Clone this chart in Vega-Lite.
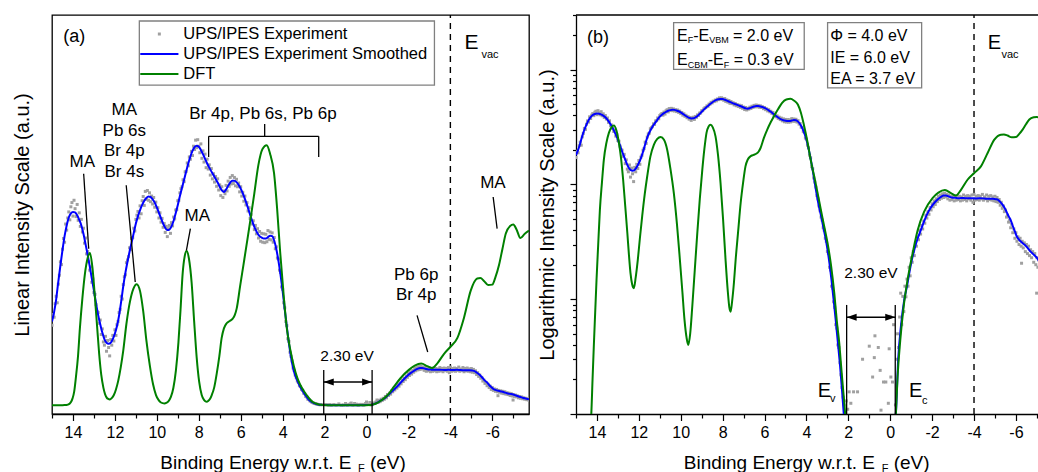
{
  "$schema": "https://vega.github.io/schema/vega-lite/v6.json",
  "background": "white",
  "padding": {"left": 11, "top": 13, "right": 0, "bottom": 0},
  "config": {
    "font": "Liberation Sans",
    "axis": {"labelFont": "Liberation Sans", "titleFont": "Liberation Sans", "labelFontSize": 16, "titleFontSize": 20, "titleFontWeight": "normal", "labelColor": "black", "titleColor": "black", "tickColor": "black", "domainColor": "black", "domainWidth": 1.3, "tickWidth": 1.2, "grid": false},
    "text": {"font": "Liberation Sans", "color": "black"}
  },
  "datasets": {
    "exp": [
      {"E":15.0,"I":17.2},{"E":14.95,"I":19.5},{"E":14.9,"I":18.9},{"E":14.85,"I":21.8},{"E":14.8,"I":23.4},{"E":14.75,"I":22.0},{"E":14.7,"I":26.0},{"E":14.65,"I":27.9},{"E":14.6,"I":30.8},{"E":14.55,"I":30.2},{"E":14.5,"I":33.5},{"E":14.45,"I":35.8},{"E":14.4,"I":35.0},{"E":14.35,"I":38.9},{"E":14.3,"I":37.6},{"E":14.25,"I":40.2},{"E":14.2,"I":41.5},{"E":14.15,"I":39.8},{"E":14.1,"I":42.6},{"E":14.05,"I":43.5},{"E":14.0,"I":40.6},{"E":13.95,"I":44.0},{"E":13.9,"I":42.2},{"E":13.85,"I":40.5},{"E":13.8,"I":43.1},{"E":13.75,"I":39.7},{"E":13.7,"I":41.3},{"E":13.65,"I":38.4},{"E":13.6,"I":39.9},{"E":13.55,"I":37.2},{"E":13.5,"I":38.0},{"E":13.45,"I":34.8},{"E":13.4,"I":35.9},{"E":13.35,"I":32.5},{"E":13.3,"I":33.0},{"E":13.25,"I":30.8},{"E":13.2,"I":29.0},{"E":13.15,"I":29.7},{"E":13.1,"I":26.4},{"E":13.05,"I":27.1},{"E":13.0,"I":24.2},{"E":12.95,"I":23.8},{"E":12.9,"I":21.6},{"E":12.85,"I":20.1},{"E":12.8,"I":19.9},{"E":12.75,"I":17.6},{"E":12.7,"I":18.3},{"E":12.65,"I":15.2},{"E":12.6,"I":16.4},{"E":12.55,"I":13.6},{"E":12.5,"I":12.9},{"E":12.45,"I":14.8},{"E":12.4,"I":11.6},{"E":12.35,"I":13.9},{"E":12.3,"I":12.4},{"E":12.25,"I":10.6},{"E":12.2,"I":14.1},{"E":12.15,"I":12.9},{"E":12.1,"I":15.0},{"E":12.05,"I":13.8},{"E":12.0,"I":16.2},{"E":11.95,"I":15.0},{"E":11.9,"I":17.3},{"E":11.85,"I":18.0},{"E":11.8,"I":19.9},{"E":11.75,"I":20.6},{"E":11.7,"I":23.4},{"E":11.65,"I":22.8},{"E":11.6,"I":25.9},{"E":11.55,"I":27.6},{"E":11.5,"I":28.0},{"E":11.45,"I":30.6},{"E":11.4,"I":31.2},{"E":11.35,"I":31.9},{"E":11.3,"I":33.8},{"E":11.25,"I":33.4},{"E":11.2,"I":35.8},{"E":11.15,"I":36.0},{"E":11.1,"I":38.0},{"E":11.05,"I":37.4},{"E":11.0,"I":39.9},{"E":10.95,"I":40.8},{"E":10.9,"I":41.6},{"E":10.85,"I":40.2},{"E":10.8,"I":42.8},{"E":10.75,"I":41.1},{"E":10.7,"I":43.9},{"E":10.65,"I":44.8},{"E":10.6,"I":42.9},{"E":10.55,"I":45.9},{"E":10.5,"I":44.2},{"E":10.45,"I":46.1},{"E":10.4,"I":44.0},{"E":10.35,"I":45.6},{"E":10.3,"I":43.7},{"E":10.25,"I":44.9},{"E":10.2,"I":43.2},{"E":10.15,"I":44.6},{"E":10.1,"I":42.5},{"E":10.05,"I":43.6},{"E":10.0,"I":41.5},{"E":9.95,"I":42.4},{"E":9.9,"I":40.2},{"E":9.85,"I":41.3},{"E":9.8,"I":39.3},{"E":9.75,"I":40.1},{"E":9.7,"I":38.2},{"E":9.65,"I":39.0},{"E":9.6,"I":37.1},{"E":9.55,"I":38.4},{"E":9.5,"I":36.2},{"E":9.45,"I":37.9},{"E":9.4,"I":38.6},{"E":9.35,"I":36.9},{"E":9.3,"I":39.2},{"E":9.25,"I":38.5},{"E":9.2,"I":40.4},{"E":9.15,"I":40.0},{"E":9.1,"I":41.9},{"E":9.05,"I":42.0},{"E":9.0,"I":43.9},{"E":8.95,"I":44.0},{"E":8.9,"I":45.6},{"E":8.85,"I":46.5},{"E":8.8,"I":46.9},{"E":8.75,"I":48.4},{"E":8.7,"I":48.0},{"E":8.65,"I":50.1},{"E":8.6,"I":50.2},{"E":8.55,"I":52.0},{"E":8.5,"I":51.4},{"E":8.45,"I":53.3},{"E":8.4,"I":52.8},{"E":8.35,"I":54.5},{"E":8.3,"I":53.6},{"E":8.25,"I":55.6},{"E":8.2,"I":54.9},{"E":8.15,"I":56.9},{"E":8.1,"I":55.3},{"E":8.05,"I":57.0},{"E":8.0,"I":55.6},
      {"E":7.95,"I":54.2},{"E":7.9,"I":56.1},{"E":7.85,"I":53.0},{"E":7.8,"I":54.6},{"E":7.75,"I":52.2},{"E":7.7,"I":53.9},{"E":7.65,"I":51.0},{"E":7.6,"I":52.8},{"E":7.55,"I":50.7},{"E":7.5,"I":51.6},{"E":7.45,"I":49.4},{"E":7.4,"I":50.8},{"E":7.35,"I":48.6},{"E":7.3,"I":49.7},{"E":7.25,"I":47.9},{"E":7.2,"I":49.1},{"E":7.15,"I":47.0},{"E":7.1,"I":48.6},{"E":7.05,"I":46.2},{"E":7.0,"I":47.3},{"E":6.95,"I":45.0},{"E":6.9,"I":46.9},{"E":6.85,"I":44.6},{"E":6.8,"I":46.0},{"E":6.75,"I":45.4},{"E":6.7,"I":47.2},{"E":6.65,"I":46.0},{"E":6.6,"I":48.1},{"E":6.55,"I":47.0},{"E":6.5,"I":48.9},{"E":6.45,"I":47.5},{"E":6.4,"I":49.3},{"E":6.35,"I":47.6},{"E":6.3,"I":48.9},{"E":6.25,"I":47.1},{"E":6.2,"I":48.5},{"E":6.15,"I":46.9},{"E":6.1,"I":47.7},{"E":6.05,"I":45.8},{"E":6.0,"I":46.9},{"E":5.95,"I":44.9},{"E":5.9,"I":45.7},{"E":5.85,"I":43.8},{"E":5.8,"I":44.9},{"E":5.75,"I":43.0},{"E":5.7,"I":43.5},{"E":5.65,"I":41.7},{"E":5.6,"I":42.4},{"E":5.55,"I":40.1},{"E":5.5,"I":40.9},{"E":5.45,"I":38.9},{"E":5.4,"I":39.6},{"E":5.35,"I":37.7},{"E":5.3,"I":38.6},{"E":5.25,"I":36.8},{"E":5.2,"I":37.9},{"E":5.15,"I":35.9},{"E":5.1,"I":37.3},{"E":5.05,"I":35.2},{"E":5.0,"I":36.9},{"E":4.95,"I":35.0},{"E":4.9,"I":36.8},{"E":4.85,"I":34.9},{"E":4.8,"I":36.7},{"E":4.75,"I":35.1},{"E":4.7,"I":37.5},{"E":4.65,"I":35.6},{"E":4.6,"I":37.2},{"E":4.55,"I":35.5},{"E":4.5,"I":37.0},{"E":4.45,"I":35.0},{"E":4.4,"I":36.0},{"E":4.35,"I":33.6},{"E":4.3,"I":34.0},{"E":4.25,"I":31.6},{"E":4.2,"I":31.4},{"E":4.15,"I":29.0},{"E":4.1,"I":28.5},{"E":4.05,"I":25.4},{"E":4.0,"I":24.9},{"E":3.95,"I":22.0},{"E":3.9,"I":20.9},{"E":3.85,"I":18.0},{"E":3.8,"I":17.1},{"E":3.75,"I":14.3},{"E":3.7,"I":13.7},{"E":3.65,"I":11.4},{"E":3.6,"I":10.5},{"E":3.55,"I":9.5},{"E":3.5,"I":8.0},{"E":3.45,"I":7.5},{"E":3.4,"I":6.5},{"E":3.35,"I":5.9},{"E":3.3,"I":5.2},{"E":3.25,"I":4.9},{"E":3.2,"I":4.2},{"E":3.15,"I":4.0},{"E":3.1,"I":3.4},{"E":3.05,"I":3.2},{"E":3.0,"I":2.6},{"E":2.95,"I":2.5},{"E":2.9,"I":1.9},{"E":2.85,"I":1.8},{"E":2.8,"I":1.3},{"E":2.75,"I":1.25},{"E":2.7,"I":0.95},{"E":2.65,"I":0.85},{"E":2.6,"I":0.6},{"E":2.55,"I":0.56},{"E":2.5,"I":0.4},{"E":2.45,"I":0.38},{"E":2.4,"I":0.28},{"E":2.35,"I":0.22},{"E":2.3,"I":0.17},{"E":2.25,"I":0.14},{"E":2.2,"I":0.12},
      {"E":2.1,"I":0.13},{"E":2.03,"I":0.11},{"E":1.96,"I":0.156},{"E":1.88,"I":0.124},{"E":1.82,"I":0.05},{"E":1.75,"I":0.156},{"E":1.68,"I":0.04},{"E":1.56,"I":0.156},{"E":1.45,"I":0.06},{"E":1.32,"I":0.3},{"E":1.2,"I":0.05},{"E":1.1,"I":0.08},{"E":1.0,"I":0.39},{"E":0.92,"I":0.06},{"E":0.84,"I":0.21},{"E":0.76,"I":0.31},{"E":0.73,"I":0.48},{"E":0.65,"I":0.07},{"E":0.57,"I":0.38},{"E":0.48,"I":0.24},{"E":0.44,"I":0.108},{"E":0.38,"I":0.05},{"E":0.32,"I":0.19},{"E":0.21,"I":0.19},{"E":0.15,"I":0.06},{"E":0.09,"I":0.124},{"E":0.05,"I":0.37},{"E":0.0,"I":0.71},{"E":-0.03,"I":0.21},{"E":-0.11,"I":0.19},{"E":-0.16,"I":0.6},{"E":-0.2,"I":0.09},
      {"E":-0.25,"I":0.12},{"E":-0.3,"I":0.3},{"E":-0.35,"I":0.5},{"E":-0.4,"I":0.38},{"E":-0.45,"I":0.7},{"E":-0.5,"I":1.13},{"E":-0.55,"I":0.6},{"E":-0.6,"I":1.06},{"E":-0.65,"I":0.78},{"E":-0.7,"I":1.3},{"E":-0.75,"I":1.05},{"E":-0.8,"I":1.5},{"E":-0.85,"I":1.3},{"E":-0.9,"I":1.9},{"E":-0.95,"I":1.6},{"E":-1.0,"I":2.3},{"E":-1.05,"I":2.1},{"E":-1.1,"I":2.6},{"E":-1.15,"I":2.4},{"E":-1.2,"I":3.1},{"E":-1.25,"I":2.9},{"E":-1.3,"I":3.5},{"E":-1.35,"I":3.3},{"E":-1.4,"I":4.0},{"E":-1.45,"I":3.7},{"E":-1.5,"I":4.4},{"E":-1.55,"I":4.1},{"E":-1.6,"I":4.8},{"E":-1.65,"I":4.6},{"E":-1.7,"I":5.4},{"E":-1.75,"I":5.1},{"E":-1.8,"I":5.8},{"E":-1.85,"I":5.5},{"E":-1.9,"I":6.3},{"E":-1.95,"I":6.0},{"E":-2.0,"I":6.8},{"E":-2.05,"I":6.4},{"E":-2.1,"I":7.2},{"E":-2.15,"I":6.7},{"E":-2.2,"I":7.5},{"E":-2.25,"I":7.1},{"E":-2.3,"I":7.9},{"E":-2.35,"I":7.4},{"E":-2.4,"I":8.1},{"E":-2.45,"I":7.6},{"E":-2.5,"I":8.3},{"E":-2.55,"I":7.7},{"E":-2.6,"I":8.4},{"E":-2.65,"I":7.8},{"E":-2.7,"I":8.2},{"E":-2.75,"I":7.5},{"E":-2.8,"I":8.1},{"E":-2.85,"I":7.3},{"E":-2.9,"I":7.9},{"E":-2.95,"I":7.4},{"E":-3.0,"I":8.0},{"E":-3.05,"I":7.2},{"E":-3.1,"I":7.9},{"E":-3.15,"I":7.3},{"E":-3.2,"I":8.0},{"E":-3.25,"I":7.4},{"E":-3.3,"I":7.9},{"E":-3.35,"I":7.2},{"E":-3.4,"I":7.8},{"E":-3.45,"I":7.3},{"E":-3.5,"I":8.1},{"E":-3.55,"I":7.4},{"E":-3.6,"I":7.9},{"E":-3.65,"I":7.2},{"E":-3.7,"I":8.0},{"E":-3.75,"I":7.5},{"E":-3.8,"I":7.9},{"E":-3.85,"I":7.3},{"E":-3.9,"I":8.1},{"E":-3.95,"I":7.0},{"E":-4.0,"I":8.2},{"E":-4.05,"I":7.3},{"E":-4.1,"I":7.9},{"E":-4.15,"I":7.4},{"E":-4.2,"I":8.0},{"E":-4.25,"I":7.3},{"E":-4.3,"I":7.9},{"E":-4.35,"I":7.5},{"E":-4.4,"I":8.2},{"E":-4.45,"I":7.3},{"E":-4.5,"I":7.8},{"E":-4.55,"I":7.5},{"E":-4.6,"I":8.1},{"E":-4.65,"I":7.2},{"E":-4.7,"I":7.9},{"E":-4.75,"I":7.4},{"E":-4.8,"I":8.0},{"E":-4.85,"I":7.3},{"E":-4.9,"I":7.8},{"E":-4.95,"I":7.2},{"E":-5.0,"I":7.9},{"E":-5.05,"I":7.1},{"E":-5.1,"I":7.7},{"E":-5.15,"I":7.0},{"E":-5.2,"I":7.4},{"E":-5.25,"I":6.6},{"E":-5.3,"I":7.0},{"E":-5.35,"I":6.2},{"E":-5.4,"I":6.5},{"E":-5.45,"I":5.8},{"E":-5.5,"I":6.0},{"E":-5.55,"I":5.2},{"E":-5.6,"I":5.4},{"E":-5.65,"I":4.7},{"E":-5.7,"I":4.9},{"E":-5.75,"I":4.2},{"E":-5.8,"I":4.5},{"E":-5.85,"I":3.8},{"E":-5.9,"I":4.1},{"E":-5.95,"I":3.4},{"E":-6.0,"I":3.8},{"E":-6.05,"I":3.2},{"E":-6.1,"I":3.5},{"E":-6.15,"I":3.0},{"E":-6.2,"I":3.4},{"E":-6.25,"I":2.9},{"E":-6.27,"I":2.06},{"E":-6.3,"I":3.2},{"E":-6.35,"I":2.8},{"E":-6.4,"I":3.1},{"E":-6.45,"I":2.6},{"E":-6.5,"I":3.0},{"E":-6.55,"I":2.5},{"E":-6.6,"I":2.9},{"E":-6.65,"I":2.4},{"E":-6.7,"I":2.7},{"E":-6.75,"I":2.3},{"E":-6.8,"I":2.6},{"E":-6.85,"I":2.1},{"E":-6.9,"I":2.5},{"E":-6.95,"I":2.0},{"E":-6.99,"I":1.13},{"E":-7.0,"I":2.3},{"E":-7.05,"I":1.9},{"E":-7.1,"I":2.2},{"E":-7.15,"I":1.8},{"E":-7.2,"I":2.0},{"E":-7.25,"I":1.6},{"E":-7.3,"I":1.9},{"E":-7.35,"I":1.5},{"E":-7.4,"I":1.8},{"E":-7.45,"I":1.4},{"E":-7.5,"I":1.6},{"E":-7.55,"I":1.3},{"E":-7.6,"I":1.5},{"E":-7.65,"I":1.2},{"E":-7.7,"I":1.4},{"E":-7.75,"I":1.1}
    ],
    "smooth": [
      {"E":15.0,"I":18.0},{"E":14.9,"I":20.0},{"E":14.8,"I":22.8},{"E":14.7,"I":26.5},{"E":14.6,"I":30.0},{"E":14.5,"I":33.3},{"E":14.4,"I":36.3},{"E":14.3,"I":38.6},{"E":14.2,"I":40.3},{"E":14.1,"I":41.2},{"E":14.0,"I":41.5},{"E":13.9,"I":41.4},{"E":13.8,"I":40.8},{"E":13.7,"I":39.8},{"E":13.6,"I":38.6},{"E":13.5,"I":36.8},{"E":13.4,"I":34.6},{"E":13.3,"I":32.3},{"E":13.2,"I":29.8},{"E":13.1,"I":27.2},{"E":13.0,"I":24.6},{"E":12.9,"I":21.9},{"E":12.8,"I":19.4},{"E":12.7,"I":17.4},{"E":12.6,"I":15.6},{"E":12.5,"I":14.2},{"E":12.4,"I":13.4},{"E":12.3,"I":13.2},{"E":12.2,"I":13.4},{"E":12.1,"I":14.2},{"E":12.0,"I":15.4},{"E":11.9,"I":17.0},{"E":11.8,"I":19.3},{"E":11.7,"I":22.3},{"E":11.6,"I":25.6},{"E":11.5,"I":28.4},{"E":11.4,"I":30.8},{"E":11.3,"I":33.0},{"E":11.2,"I":35.0},{"E":11.1,"I":37.0},{"E":11.0,"I":39.0},{"E":10.9,"I":40.6},{"E":10.8,"I":41.9},{"E":10.7,"I":43.0},{"E":10.6,"I":43.9},{"E":10.5,"I":44.5},{"E":10.4,"I":44.8},{"E":10.3,"I":44.7},{"E":10.2,"I":44.2},{"E":10.1,"I":43.5},{"E":10.0,"I":42.5},{"E":9.9,"I":41.3},{"E":9.8,"I":40.1},{"E":9.7,"I":39.0},{"E":9.6,"I":38.1},{"E":9.5,"I":37.6},{"E":9.4,"I":37.7},{"E":9.3,"I":38.4},{"E":9.2,"I":39.6},{"E":9.1,"I":41.2},{"E":9.0,"I":43.0},{"E":8.9,"I":44.9},{"E":8.8,"I":46.7},{"E":8.7,"I":48.4},{"E":8.6,"I":50.2},{"E":8.5,"I":51.9},{"E":8.4,"I":53.4},{"E":8.3,"I":54.6},{"E":8.2,"I":55.4},{"E":8.1,"I":55.7},{"E":8.0,"I":55.5},{"E":7.9,"I":54.8},{"E":7.8,"I":53.9},{"E":7.7,"I":52.9},{"E":7.6,"I":51.9},{"E":7.5,"I":51.0},{"E":7.4,"I":50.2},{"E":7.3,"I":49.4},{"E":7.2,"I":48.6},{"E":7.1,"I":47.8},{"E":7.0,"I":46.9},{"E":6.9,"I":46.1},{"E":6.8,"I":45.8},{"E":6.7,"I":46.3},{"E":6.6,"I":47.1},{"E":6.5,"I":47.8},{"E":6.4,"I":48.2},{"E":6.3,"I":48.2},{"E":6.2,"I":47.9},{"E":6.1,"I":47.3},{"E":6.0,"I":46.5},{"E":5.9,"I":45.5},{"E":5.8,"I":44.3},{"E":5.7,"I":43.0},{"E":5.6,"I":41.6},{"E":5.5,"I":40.2},{"E":5.4,"I":38.9},{"E":5.3,"I":37.8},{"E":5.2,"I":36.9},{"E":5.1,"I":36.3},{"E":5.0,"I":36.0},{"E":4.9,"I":35.8},{"E":4.8,"I":35.8},{"E":4.7,"I":36.1},{"E":4.6,"I":36.4},{"E":4.5,"I":36.3},{"E":4.4,"I":35.3},{"E":4.3,"I":33.5},{"E":4.2,"I":31.0},{"E":4.1,"I":28.0},{"E":4.0,"I":24.5},{"E":3.9,"I":20.6},{"E":3.8,"I":16.8},{"E":3.7,"I":13.3},{"E":3.6,"I":10.3},{"E":3.5,"I":8.0},{"E":3.4,"I":6.4},{"E":3.3,"I":5.3},{"E":3.2,"I":4.3},{"E":3.1,"I":3.5},{"E":3.0,"I":2.75},{"E":2.9,"I":2.05},{"E":2.8,"I":1.45},{"E":2.7,"I":0.98},{"E":2.6,"I":0.65},{"E":2.5,"I":0.42},{"E":2.4,"I":0.27},{"E":2.3,"I":0.16},{"E":2.2,"I":0.09},{"E":2.1,"I":0.05},{"E":1.9,"I":0.035},{"E":1.5,"I":0.03},{"E":1.0,"I":0.03},{"E":0.5,"I":0.03},{"E":0.0,"I":0.035},{"E":-0.1,"I":0.045},{"E":-0.2,"I":0.07},{"E":-0.27,"I":0.1},{"E":-0.38,"I":0.3},{"E":-0.51,"I":0.58},{"E":-0.67,"I":0.99},{"E":-0.8,"I":1.3},{"E":-0.91,"I":1.69},{"E":-1.03,"I":2.2},{"E":-1.15,"I":2.7},{"E":-1.3,"I":3.35},{"E":-1.46,"I":4.0},{"E":-1.62,"I":4.8},{"E":-1.78,"I":5.6},{"E":-1.94,"I":6.3},{"E":-2.1,"I":6.9},{"E":-2.26,"I":7.4},{"E":-2.42,"I":7.8},{"E":-2.55,"I":8.0},{"E":-2.66,"I":8.0},{"E":-2.8,"I":7.85},{"E":-2.95,"I":7.7},{"E":-3.1,"I":7.65},{"E":-3.3,"I":7.6},{"E":-3.5,"I":7.62},{"E":-3.7,"I":7.58},{"E":-3.9,"I":7.6},{"E":-4.1,"I":7.55},{"E":-4.3,"I":7.6},{"E":-4.5,"I":7.55},{"E":-4.7,"I":7.5},{"E":-4.9,"I":7.5},{"E":-5.05,"I":7.45},{"E":-5.15,"I":7.35},{"E":-5.25,"I":7.05},{"E":-5.35,"I":6.7},{"E":-5.45,"I":6.3},{"E":-5.55,"I":5.8},{"E":-5.65,"I":5.3},{"E":-5.76,"I":4.85},{"E":-5.85,"I":4.35},{"E":-5.95,"I":3.9},{"E":-6.05,"I":3.5},{"E":-6.15,"I":3.3},{"E":-6.3,"I":3.1},{"E":-6.45,"I":2.95},{"E":-6.56,"I":2.8},{"E":-6.7,"I":2.6},{"E":-6.85,"I":2.45},{"E":-7.0,"I":2.3},{"E":-7.1,"I":2.15},{"E":-7.25,"I":1.9},{"E":-7.4,"I":1.7},{"E":-7.55,"I":1.5},{"E":-7.75,"I":1.3}
    ],
    "dft": [
      {"E":15.0,"I":0.01},{"E":14.7,"I":0.012},{"E":14.5,"I":0.025},{"E":14.4,"I":0.05},{"E":14.33,"I":0.075},{"E":14.27,"I":0.1},{"E":14.21,"I":0.2},{"E":14.15,"I":0.39},{"E":14.08,"I":0.8},{"E":14.02,"I":1.48},{"E":13.94,"I":3.0},{"E":13.86,"I":6.0},{"E":13.76,"I":10.5},{"E":13.67,"I":16.5},{"E":13.55,"I":23},{"E":13.43,"I":28.2},{"E":13.3,"I":31.6},{"E":13.19,"I":32.7},{"E":13.07,"I":29.5},{"E":12.95,"I":23},{"E":12.85,"I":17},{"E":12.75,"I":11.0},{"E":12.65,"I":6.5},{"E":12.55,"I":3.8},{"E":12.47,"I":2.4},{"E":12.4,"I":1.7},{"E":12.32,"I":1.35},{"E":12.24,"I":1.25},{"E":12.15,"I":1.55},{"E":12.05,"I":2.2},{"E":11.95,"I":3.4},{"E":11.84,"I":5.3},{"E":11.72,"I":8.2},{"E":11.6,"I":11.8},{"E":11.45,"I":17.5},{"E":11.28,"I":22.3},{"E":11.12,"I":25},{"E":10.96,"I":26},{"E":10.8,"I":24.5},{"E":10.65,"I":20.2},{"E":10.5,"I":14},{"E":10.33,"I":8.4},{"E":10.18,"I":4.5},{"E":10.04,"I":2.2},{"E":9.92,"I":1.15},{"E":9.82,"I":0.66},{"E":9.72,"I":0.46},{"E":9.64,"I":0.4},{"E":9.55,"I":0.5},{"E":9.45,"I":0.86},{"E":9.33,"I":1.8},{"E":9.21,"I":3.77},{"E":9.09,"I":7.5},{"E":8.97,"I":13.5},{"E":8.87,"I":20.5},{"E":8.77,"I":28.2},{"E":8.67,"I":32},{"E":8.58,"I":33.1},{"E":8.47,"I":31.5},{"E":8.34,"I":26.3},{"E":8.22,"I":18},{"E":8.1,"I":10.3},{"E":7.98,"I":5},{"E":7.86,"I":2.2},{"E":7.75,"I":1.15},{"E":7.68,"I":0.85},{"E":7.62,"I":0.78},{"E":7.55,"I":0.95},{"E":7.46,"I":1.4},{"E":7.38,"I":2.2},{"E":7.26,"I":3.9},{"E":7.14,"I":6.9},{"E":7.02,"I":10.5},{"E":6.91,"I":14.4},{"E":6.8,"I":16.5},{"E":6.67,"I":17.6},{"E":6.52,"I":18.1},{"E":6.38,"I":18.6},{"E":6.28,"I":19.4},{"E":6.19,"I":20.8},{"E":6.03,"I":25.5},{"E":5.87,"I":30.1},{"E":5.7,"I":35},{"E":5.55,"I":39.4},{"E":5.35,"I":45.5},{"E":5.16,"I":51.5},{"E":4.96,"I":55},{"E":4.76,"I":55.8},{"E":4.6,"I":54},{"E":4.41,"I":49.8},{"E":4.26,"I":42},{"E":4.12,"I":33},{"E":3.94,"I":23},{"E":3.8,"I":16.5},{"E":3.63,"I":11.8},{"E":3.47,"I":8.5},{"E":3.31,"I":6.0},{"E":3.15,"I":4.3},{"E":2.99,"I":3.08},{"E":2.83,"I":2.0},{"E":2.67,"I":1.13},{"E":2.55,"I":0.65},{"E":2.43,"I":0.41},{"E":2.35,"I":0.27},{"E":2.27,"I":0.18},{"E":2.15,"I":0.1},{"E":2.05,"I":0.05},{"E":1.9,"I":0.02},{"E":1.0,"I":0.012},{"E":0.0,"I":0.012},{"E":-0.15,"I":0.04},{"E":-0.27,"I":0.1},{"E":-0.35,"I":0.21},{"E":-0.48,"I":0.44},{"E":-0.64,"I":0.86},{"E":-0.83,"I":1.48},{"E":-1.07,"I":2.52},{"E":-1.31,"I":4.0},{"E":-1.62,"I":5.8},{"E":-2.02,"I":7.6},{"E":-2.3,"I":8.5},{"E":-2.61,"I":8.95},{"E":-2.9,"I":8.4},{"E":-3.14,"I":8.0},{"E":-3.37,"I":8.95},{"E":-3.69,"I":11.0},{"E":-4.01,"I":12.6},{"E":-4.33,"I":14.4},{"E":-4.65,"I":18.8},{"E":-4.97,"I":24.6},{"E":-5.28,"I":27.2},{"E":-5.43,"I":27.3},{"E":-5.6,"I":26.7},{"E":-5.8,"I":25.8},{"E":-6.0,"I":25.9},{"E":-6.15,"I":27.5},{"E":-6.32,"I":30.1},{"E":-6.48,"I":33.5},{"E":-6.64,"I":36.8},{"E":-6.85,"I":38.5},{"E":-7.0,"I":38.8},{"E":-7.15,"I":37.8},{"E":-7.34,"I":35.9},{"E":-7.55,"I":36.8},{"E":-7.75,"I":37.5}
    ],
    "boxes": [
      {"panel":"a","E":10.835,"E2":-3.24,"I":82.47,"I2":68.73},
      {"panel":"b","E":10.34,"E2":4.105,"I":257.4,"I2":100.6},
      {"panel":"b","E":2.99,"E2":-1.5,"I":257.4,"I2":69.6}
    ],
    "vac": [
      {"panel":"a","E":-4,"I":-1.87,"I2":83.76},
      {"panel":"b","E":-4,"I":0.1,"I2":300}
    ],
    "segments": [
      {"panel":"a","E":13.49,"I":49.7,"E2":13.25,"I2":33.6},
      {"panel":"a","E":11.46,"I":47.21,"E2":11.03,"I2":26.46},
      {"panel":"a","E":4.857,"I":60.37,"E2":4.857,"I2":57.73},
      {"panel":"a","E":7.53,"I":57.73,"E2":2.28,"I2":57.73},
      {"panel":"a","E":7.53,"I":57.73,"E2":7.53,"I2":53.28},
      {"panel":"a","E":2.28,"I":57.73,"E2":2.28,"I2":53.28},
      {"panel":"a","E":8.4,"I":37.9,"E2":8.59,"I2":33.26},
      {"panel":"a","E":-6.04,"I":44.7,"E2":-6.23,"I2":37.9},
      {"panel":"a","E":-2.41,"I":19.31,"E2":-2.92,"I2":11.44},
      {"panel":"a","E":2.04,"I":7.58,"E2":2.04,"I2":-1.87},
      {"panel":"a","E":-0.267,"I":7.58,"E2":-0.267,"I2":-1.87},
      {"panel":"a","E":2.04,"I":5.0,"E2":-0.267,"I2":5.0},
      {"panel":"b","E":2.08,"I":0.892,"E2":2.08,"I2":0.1},
      {"panel":"b","E":-0.24,"I":0.892,"E2":-0.24,"I2":0.1},
      {"panel":"b","E":2.08,"I":0.6966,"E2":-0.24,"I2":0.6966},
      {"panel":"b","E":15,"I":300,"E2":-7.15,"I2":300}
    ],
    "heads": [
      {"panel":"a","E":2.04,"I":5.0,"dir":"left"},
      {"panel":"a","E":-0.267,"I":5.0,"dir":"right"},
      {"panel":"b","E":2.08,"I":0.6966,"dir":"left"},
      {"panel":"b","E":-0.24,"I":0.6966,"dir":"right"}
    ],
    "legendlines": [
      {"series":"smooth","E":10.79,"E2":8.97,"I":75.39},
      {"series":"dft","E":10.79,"E2":8.97,"I":71.09}
    ],
    "legendpoint": [
      {"E":9.88,"I":79.68}
    ],
    "notes": [
      {"panel":"a","role":"panel","E":13.94,"I":79.03,"text":"(a)"},
      {"panel":"a","role":"legend","E":8.74,"I":79.68,"text":"UPS/IPES Experiment"},
      {"panel":"a","role":"legend","E":8.74,"I":75.39,"text":"UPS/IPES Experiment Smoothed"},
      {"panel":"a","role":"legend","E":8.74,"I":71.09,"text":"DFT"},
      {"panel":"a","role":"label","E":13.555,"I":52.21,"text":"MA"},
      {"panel":"a","role":"label","E":11.55,"I":63.37,"text":"MA"},
      {"panel":"a","role":"label","E":11.55,"I":58.97,"text":"Pb 6s"},
      {"panel":"a","role":"label","E":11.55,"I":54.57,"text":"Br 4p"},
      {"panel":"a","role":"label","E":11.55,"I":50.06,"text":"Br 4s"},
      {"panel":"a","role":"label","E":4.94,"I":62.51,"text":"Br 4p, Pb 6s, Pb 6p"},
      {"panel":"a","role":"label","E":8.068,"I":40.62,"text":"MA"},
      {"panel":"a","role":"label","E":-6.03,"I":47.7,"text":"MA"},
      {"panel":"a","role":"label","E":-2.37,"I":27.9,"text":"Pb 6p"},
      {"panel":"a","role":"label","E":-2.37,"I":23.6,"text":"Br 4p"},
      {"panel":"a","role":"gap","E":0.926,"I":10.58,"text":"2.30 eV"},
      {"panel":"a","role":"bigE","E":-4.67,"I":77.85,"text":"E"},
      {"panel":"a","role":"sub","E":-5.48,"I":75.28,"text":"vac"},
      {"panel":"a","role":"xtitle","E":0.72,"I":-1.87,"text":"Binding Energy w.r.t. E"},
      {"panel":"a","role":"axsub","E":0.41,"I":-1.87,"text":"F"},
      {"panel":"a","role":"xunit","E":-0.162,"I":-1.87,"text":"(eV)"},
      {"panel":"b","role":"panel","E":13.95,"I":190,"text":"(b)"},
      {"panel":"b","role":"box","E":10.182,"I":198.2,"text":"E"},
      {"panel":"b","role":"boxsub","E":9.671,"I":181,"text":"F"},
      {"panel":"b","role":"box","E":9.408,"I":198.2,"text":"-E"},
      {"panel":"b","role":"boxsub","E":8.645,"I":181,"text":"VBM"},
      {"panel":"b","role":"box","E":7.504,"I":198.2,"text":"= 2.0 eV"},
      {"panel":"b","role":"box","E":10.182,"I":121,"text":"E"},
      {"panel":"b","role":"boxsub","E":9.671,"I":110.6,"text":"CBM"},
      {"panel":"b","role":"box","E":8.716,"I":121,"text":"-E"},
      {"panel":"b","role":"boxsub","E":7.952,"I":110.6,"text":"F"},
      {"panel":"b","role":"box","E":7.475,"I":121,"text":"= 0.3 eV"},
      {"panel":"b","role":"box","E":2.864,"I":197,"text":"Φ = 4.0 eV"},
      {"panel":"b","role":"box","E":2.864,"I":127.3,"text":"IE = 6.0 eV"},
      {"panel":"b","role":"box","E":2.864,"I":83.44,"text":"EA = 3.7 eV"},
      {"panel":"b","role":"bigE","E":-4.66,"I":169.4,"text":"E"},
      {"panel":"b","role":"sub","E":-5.31,"I":133.8,"text":"vac"},
      {"panel":"b","role":"gap","E":0.92,"I":1.687,"text":"2.30 eV"},
      {"panel":"b","role":"bigE","E":3.465,"I":0.1572,"text":"E"},
      {"panel":"b","role":"sub","E":2.88,"I":0.134,"text":"v"},
      {"panel":"b","role":"bigE","E":-0.893,"I":0.1572,"text":"E"},
      {"panel":"b","role":"sub","E":-1.513,"I":0.131,"text":"c"},
      {"panel":"b","role":"xtitle","E":0.73,"I":0.1,"text":"Binding Energy w.r.t. E"},
      {"panel":"b","role":"axsub","E":0.406,"I":0.1,"text":"F"},
      {"panel":"b","role":"xunit","E":-0.167,"I":0.1,"text":"(eV)"}
    ]
  },
  "hconcat": [
    {
      "width": 477,
      "height": 399,
      "view": {"stroke": "black", "strokeWidth": 1.3},
      "encoding": {
        "x": {"field": "E", "type": "quantitative", "title": null,
          "scale": {"domain": [15, -7.75], "nice": false, "zero": false},
          "axis": {"values": [15,14,13,12,11,10,9,8,7,6,5,4,3,2,1,0,-1,-2,-3,-4,-5,-6,-7], "labelExpr": "datum.value % 2 === 0 ? '' + datum.value : ''", "tickSize": {"condition": {"test": "datum.value % 2 === 0", "value": 6.5}, "value": 4}, "labelPadding": 4, "labelFlush": false}},
        "y": {"field": "I", "type": "quantitative", "title": "Linear Intensity Scale (a.u.)",
          "scale": {"domain": [-1.87, 83.76], "nice": false, "zero": false},
          "axis": {"labels": false, "ticks": false, "domain": false, "titlePadding": 20}}
      },
      "layer": [
        {"data": {"name": "boxes"}, "transform": [{"filter": "datum.panel === 'a'"}], "mark": {"type": "rect", "fill": "white", "stroke": "#808080", "strokeWidth": 1.3}, "encoding": {"x2": {"field": "E2"}, "y2": {"field": "I2"}}},
        {"data": {"name": "vac"}, "transform": [{"filter": "datum.panel === 'a'"}], "mark": {"type": "rule", "color": "black", "strokeWidth": 1.4, "strokeDash": [6, 5]}, "encoding": {"y2": {"field": "I2"}}},
        {"data": {"name": "exp"}, "mark": {"type": "point", "shape": "square", "filled": true, "size": 9, "color": "#a0a0a0", "opacity": 1, "clip": true}},
        {"data": {"name": "smooth"}, "mark": {"type": "line", "color": "#0000ff", "strokeWidth": 2, "interpolate": "monotone", "clip": true}},
        {"data": {"name": "dft"}, "mark": {"type": "line", "color": "#008000", "strokeWidth": 2, "interpolate": "monotone", "clip": true}},
        {"data": {"name": "segments"}, "transform": [{"filter": "datum.panel === 'a'"}], "mark": {"type": "rule", "color": "black", "strokeWidth": 1.3}, "encoding": {"x2": {"field": "E2"}, "y2": {"field": "I2"}}},
        {"data": {"name": "heads"}, "transform": [{"filter": "datum.panel === 'a' && datum.dir === 'left'"}], "mark": {"type": "point", "shape": "M0,0L2,-0.7L2,0.7Z", "filled": true, "color": "black", "opacity": 1, "size": 100}},
        {"data": {"name": "heads"}, "transform": [{"filter": "datum.panel === 'a' && datum.dir === 'right'"}], "mark": {"type": "point", "shape": "M0,0L-2,-0.7L-2,0.7Z", "filled": true, "color": "black", "opacity": 1, "size": 100}},
        {"data": {"name": "legendlines"}, "transform": [{"filter": "datum.series === 'smooth'"}], "mark": {"type": "rule", "color": "#0000ff", "strokeWidth": 2}, "encoding": {"x2": {"field": "E2"}}},
        {"data": {"name": "legendlines"}, "transform": [{"filter": "datum.series === 'dft'"}], "mark": {"type": "rule", "color": "#008000", "strokeWidth": 2}, "encoding": {"x2": {"field": "E2"}}},
        {"data": {"name": "legendpoint"}, "mark": {"type": "point", "shape": "square", "filled": true, "size": 9, "color": "#a0a0a0", "opacity": 1}},
        {"data": {"name": "notes"}, "transform": [{"filter": "datum.panel === 'a' && datum.role === 'panel'"}], "mark": {"type": "text", "fontSize": 18, "align": "center", "baseline": "middle"}, "encoding": {"text": {"field": "text"}}},
        {"data": {"name": "notes"}, "transform": [{"filter": "datum.panel === 'a' && datum.role === 'legend'"}], "mark": {"type": "text", "fontSize": 16.5, "align": "left", "baseline": "middle"}, "encoding": {"text": {"field": "text"}}},
        {"data": {"name": "notes"}, "transform": [{"filter": "datum.panel === 'a' && datum.role === 'label'"}], "mark": {"type": "text", "fontSize": 17, "align": "center", "baseline": "middle"}, "encoding": {"text": {"field": "text"}}},
        {"data": {"name": "notes"}, "transform": [{"filter": "datum.panel === 'a' && datum.role === 'gap'"}], "mark": {"type": "text", "fontSize": 15.5, "align": "center", "baseline": "middle"}, "encoding": {"text": {"field": "text"}}},
        {"data": {"name": "notes"}, "transform": [{"filter": "datum.panel === 'a' && datum.role === 'bigE'"}], "mark": {"type": "text", "fontSize": 21, "align": "left", "baseline": "middle"}, "encoding": {"text": {"field": "text"}}},
        {"data": {"name": "notes"}, "transform": [{"filter": "datum.panel === 'a' && datum.role === 'sub'"}], "mark": {"type": "text", "fontSize": 11, "align": "left", "baseline": "middle"}, "encoding": {"text": {"field": "text"}}},
        {"data": {"name": "notes"}, "transform": [{"filter": "datum.panel === 'a' && datum.role === 'xtitle'"}], "mark": {"type": "text", "fontSize": 19, "align": "right", "baseline": "alphabetic", "dy": 55}, "encoding": {"text": {"field": "text"}}},
        {"data": {"name": "notes"}, "transform": [{"filter": "datum.panel === 'a' && datum.role === 'xunit'"}], "mark": {"type": "text", "fontSize": 19, "align": "left", "baseline": "alphabetic", "dy": 55}, "encoding": {"text": {"field": "text"}}},
        {"data": {"name": "notes"}, "transform": [{"filter": "datum.panel === 'a' && datum.role === 'axsub'"}], "mark": {"type": "text", "fontSize": 11, "align": "left", "baseline": "alphabetic", "dy": 57.5}, "encoding": {"text": {"field": "text"}}}
      ]
    },
    {
      "width": 464,
      "height": 399,
      "view": {"stroke": null},
      "encoding": {
        "x": {"field": "E", "type": "quantitative", "title": null,
          "scale": {"domain": [15, -7.15], "nice": false, "zero": false},
          "axis": {"values": [15,14,13,12,11,10,9,8,7,6,5,4,3,2,1,0,-1,-2,-3,-4,-5,-6,-7], "labelExpr": "datum.value % 2 === 0 ? '' + datum.value : ''", "tickSize": {"condition": {"test": "datum.value % 2 === 0", "value": 6.5}, "value": 4}, "labelPadding": 4, "labelFlush": false}},
        "y": {"field": "I", "type": "quantitative", "title": "Logarithmic Intensity Scale (a.u.)",
          "scale": {"type": "log", "domain": [0.1, 300], "nice": false},
          "axis": {"values": [0.1,0.2,0.3,0.4,0.5,0.6,0.7,0.8,0.9,1,2,3,4,5,6,7,8,9,10,20,30,40,50,60,70,80,90,100,200,300], "labels": false, "tickSize": {"condition": {"test": "datum.value === 0.1 || datum.value === 1 || datum.value === 10 || datum.value === 100", "value": 6}, "value": 3.5}, "titlePadding": 12}}
      },
      "layer": [
        {"data": {"name": "boxes"}, "transform": [{"filter": "datum.panel === 'b'"}], "mark": {"type": "rect", "fill": "white", "stroke": "#808080", "strokeWidth": 1.3}, "encoding": {"x2": {"field": "E2"}, "y2": {"field": "I2"}}},
        {"data": {"name": "vac"}, "transform": [{"filter": "datum.panel === 'b'"}], "mark": {"type": "rule", "color": "black", "strokeWidth": 1.4, "strokeDash": [6, 5]}, "encoding": {"y2": {"field": "I2"}}},
        {"data": {"name": "exp"}, "mark": {"type": "point", "shape": "square", "filled": true, "size": 9, "color": "#a0a0a0", "opacity": 1, "clip": true}},
        {"data": {"name": "smooth"}, "mark": {"type": "line", "color": "#0000ff", "strokeWidth": 2, "interpolate": "monotone", "clip": true}},
        {"data": {"name": "dft"}, "mark": {"type": "line", "color": "#008000", "strokeWidth": 2, "interpolate": "monotone", "clip": true}},
        {"data": {"name": "segments"}, "transform": [{"filter": "datum.panel === 'b'"}], "mark": {"type": "rule", "color": "black", "strokeWidth": 1.3}, "encoding": {"x2": {"field": "E2"}, "y2": {"field": "I2"}}},
        {"data": {"name": "heads"}, "transform": [{"filter": "datum.panel === 'b' && datum.dir === 'left'"}], "mark": {"type": "point", "shape": "M0,0L2,-0.7L2,0.7Z", "filled": true, "color": "black", "opacity": 1, "size": 100}},
        {"data": {"name": "heads"}, "transform": [{"filter": "datum.panel === 'b' && datum.dir === 'right'"}], "mark": {"type": "point", "shape": "M0,0L-2,-0.7L-2,0.7Z", "filled": true, "color": "black", "opacity": 1, "size": 100}},
        {"data": {"name": "notes"}, "transform": [{"filter": "datum.panel === 'b' && datum.role === 'panel'"}], "mark": {"type": "text", "fontSize": 18, "align": "center", "baseline": "middle"}, "encoding": {"text": {"field": "text"}}},
        {"data": {"name": "notes"}, "transform": [{"filter": "datum.panel === 'b' && datum.role === 'box'"}], "mark": {"type": "text", "fontSize": 16, "align": "left", "baseline": "middle"}, "encoding": {"text": {"field": "text"}}},
        {"data": {"name": "notes"}, "transform": [{"filter": "datum.panel === 'b' && datum.role === 'boxsub'"}], "mark": {"type": "text", "fontSize": 9, "align": "left", "baseline": "middle"}, "encoding": {"text": {"field": "text"}}},
        {"data": {"name": "notes"}, "transform": [{"filter": "datum.panel === 'b' && datum.role === 'gap'"}], "mark": {"type": "text", "fontSize": 15.5, "align": "center", "baseline": "middle"}, "encoding": {"text": {"field": "text"}}},
        {"data": {"name": "notes"}, "transform": [{"filter": "datum.panel === 'b' && datum.role === 'bigE'"}], "mark": {"type": "text", "fontSize": 20, "align": "left", "baseline": "middle"}, "encoding": {"text": {"field": "text"}}},
        {"data": {"name": "notes"}, "transform": [{"filter": "datum.panel === 'b' && datum.role === 'sub'"}], "mark": {"type": "text", "fontSize": 11, "align": "left", "baseline": "middle"}, "encoding": {"text": {"field": "text"}}},
        {"data": {"name": "notes"}, "transform": [{"filter": "datum.panel === 'b' && datum.role === 'xtitle'"}], "mark": {"type": "text", "fontSize": 19, "align": "right", "baseline": "alphabetic", "dy": 55}, "encoding": {"text": {"field": "text"}}},
        {"data": {"name": "notes"}, "transform": [{"filter": "datum.panel === 'b' && datum.role === 'xunit'"}], "mark": {"type": "text", "fontSize": 19, "align": "left", "baseline": "alphabetic", "dy": 55}, "encoding": {"text": {"field": "text"}}},
        {"data": {"name": "notes"}, "transform": [{"filter": "datum.panel === 'b' && datum.role === 'axsub'"}], "mark": {"type": "text", "fontSize": 11, "align": "left", "baseline": "alphabetic", "dy": 57.5}, "encoding": {"text": {"field": "text"}}}
      ]
    }
  ],
  "spacing": 7
}
